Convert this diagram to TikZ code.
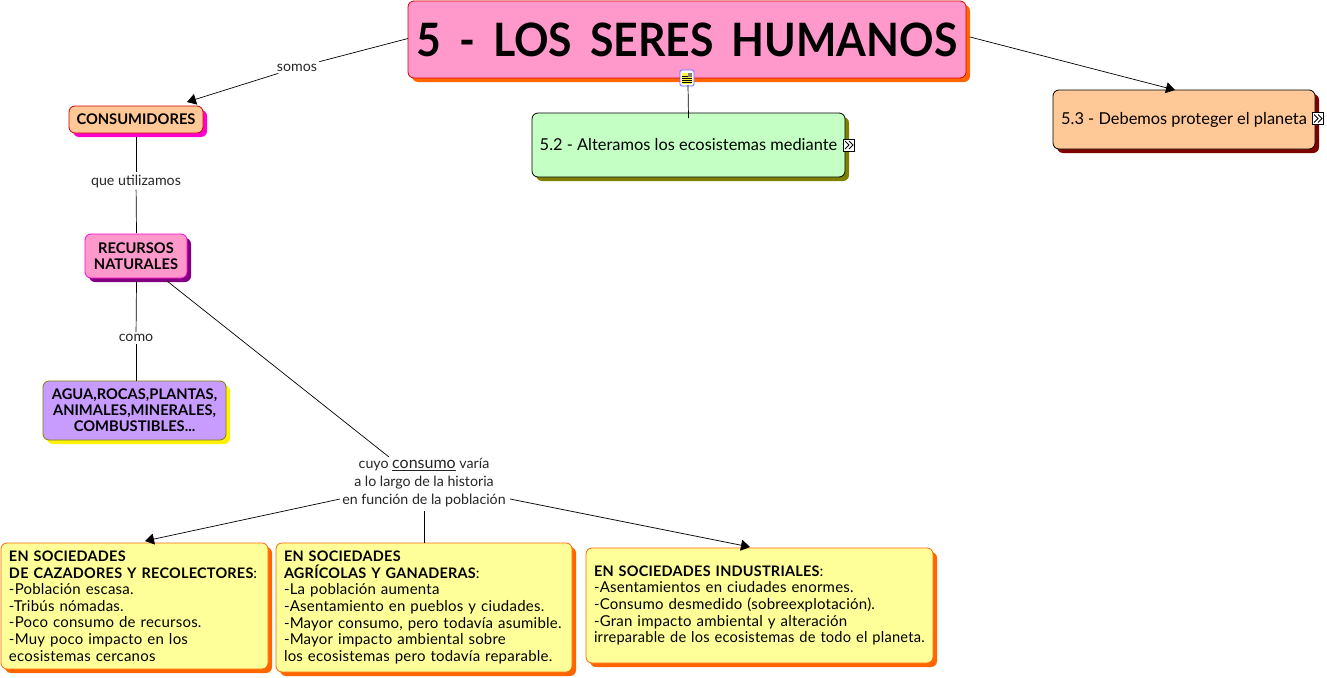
\documentclass[tikz,border=0pt]{standalone}
\usepackage{fontspec}
\setmainfont{Lato}
\usetikzlibrary{shadows,calc,arrows.meta}
\tikzset{
  x=1pt,y=-1pt,
  cbox/.style n args={4}{draw=#1,fill=#2,rounded corners=6pt,line width=0.8pt,
     general shadow={fill=#3,shadow xshift=4pt,shadow yshift=-4pt},minimum width=#4,inner sep=0pt},
  lbl/.style={fill=white,inner sep=2pt,font=\fontsize{14.2}{18}\selectfont,text=black!85,align=center},
  link/.style={draw=black,line width=0.7pt},
  arrow/.style={link,-{Triangle[length=9pt,width=11pt]}},
  body/.style={font=\fontsize{15}{16.6}\addfontfeature{LetterSpace=1.5}\selectfont,align=left},
  strong/.style={font=\fontsize{14.7}{16}\selectfont\bfseries,align=center},
  mid/.style={font=\fontsize{16.4}{18}\selectfont},
  chev/.style={draw=black,fill=white,line width=0.8pt,minimum width=11pt,minimum height=12pt,inner sep=0pt},
  chevline/.style={draw=black,line width=1pt}
}
\newcommand{\hd}[1]{{\fontsize{14.5}{16.6}\selectfont\bfseries #1}}
\definecolor{pinkf}{HTML}{FF99CC}
\definecolor{orangesh}{HTML}{FF6600}
\definecolor{greenf}{HTML}{C4FFC4}
\definecolor{peach}{HTML}{FFC896}
\definecolor{maroonsh}{HTML}{800000}
\definecolor{olivesh}{HTML}{808000}
\definecolor{magsh}{HTML}{FF00CC}
\definecolor{purplesh}{HTML}{800080}
\definecolor{lilac}{HTML}{C89BFF}
\definecolor{yellowf}{HTML}{FFFF99}
\begin{document}
\begin{tikzpicture}
\useasboundingbox (0,0) rectangle (1327,677);
% boxes
\node[cbox={red!85!black}{pinkf}{orangesh}{558pt},minimum height=77pt,font=\fontsize{46}{50}\selectfont\bfseries] (title) at (687,39.5) {\scalebox{0.93}[1]{5\hspace{8pt} -\hspace{8pt} LOS\hspace{8pt} SERES\hspace{8pt} HUMANOS}};
\node[cbox={black}{greenf}{olivesh}{313pt},minimum height=64pt,mid] (n52) at (688.5,145) {5.2 - Alteramos los ecosistemas mediante\hspace{2pt}};
\node[cbox={black}{peach}{maroonsh}{262pt},minimum height=59pt,mid] (n53) at (1184,119.5) {5.3 - Debemos proteger el planeta};
\node[cbox={red!80!black}{peach}{magsh}{134pt},minimum height=27pt,strong] (cons) at (136,119.5) {CONSUMIDORES};
\node[cbox={magsh}{pinkf}{purplesh}{102pt},minimum height=44pt,strong] (rec) at (136,256) {RECURSOS\\NATURALES};
\node[cbox={olivesh}{lilac}{yellow}{183pt},minimum height=59pt,strong] (agua) at (134.5,410.5) {AGUA,ROCAS,PLANTAS,\\ANIMALES,MINERALES,\\COMBUSTIBLES...};
\node[cbox={orangesh}{yellowf}{orangesh}{267pt},minimum height=126pt,body,text width=251pt] (caz) at (134.5,606) {\hd{EN SOCIEDADES}\\\hd{DE CAZADORES Y RECOLECTORES}:\\-Población escasa.\\-Tribús nómadas.\\-Poco consumo de recursos.\\-Muy poco impacto en los\\ecosistemas cercanos};
\node[cbox={orangesh}{yellowf}{orangesh}{296pt},minimum height=129pt,body,text width=280pt] (agr) at (424,607.5) {\hd{EN SOCIEDADES}\\\hd{AGRÍCOLAS Y GANADERAS}:\\-La población aumenta\\-Asentamiento en pueblos y ciudades.\\-Mayor consumo, pero todavía asumible.\\-Mayor impacto ambiental sobre\\los ecosistemas pero todavía reparable.};
\node[cbox={orangesh}{yellowf}{orangesh}{347pt},minimum height=115pt,body,text width=331pt] (ind) at (759.5,605.5) {\hd{EN SOCIEDADES INDUSTRIALES}:\\-Asentamientos en ciudades enormes.\\-Consumo desmedido (sobreexplotación).\\-Gran impacto ambiental y alteración\\\scalebox{0.977}[1]{irreparable de los ecosistemas de todo el planeta.}};
% labels
\node[lbl] (somos) at (297,67.5) {somos};
\node[lbl] (util) at (136,181) {que utilizamos};
\node[lbl] (como) at (136,338) {como};
\node[lbl] (cuyo) at (424,483) {cuyo {\fontsize{16}{18}\selectfont\underline{consumo}} varía\\a lo largo de la historia\\en función de la población};
% small icons
\node[draw=blue!60!white,fill=white,line width=0.8pt,rounded corners=1.5pt,minimum width=14pt,minimum height=16pt,inner sep=0pt] (doc) at (687,78) {};
\fill[yellow!70!white] (682,72.5) rectangle (692,83.5);
\fill[gray] (688,72.5) rectangle (692,77);
\foreach \yy in {76,78,80,82} \draw[black,line width=0.5pt] (682,\yy) -- (688,\yy);
\foreach \yy in {78,80,82} \draw[black,line width=0.5pt] (688,\yy) -- (692,\yy);
\node[chev] (c52) at (849,145) {};
\node[chev] (c53) at (1318,118.5) {};
\foreach \c in {c52,c53} {
  \draw[chevline] ($(\c)+(-4,-4)$) -- ($(\c)+(0,0)$) -- ($(\c)+(-4,4)$);
  \draw[chevline] ($(\c)+(0,-4)$) -- ($(\c)+(4,0)$) -- ($(\c)+(0,4)$);
}
% connector end points
\coordinate (titleS) at (688,85);
\coordinate (n52N) at (688.5,118);
\coordinate (n53A) at (1175,90);
\coordinate (titleE) at (970,37);
\coordinate (titleW) at (408,38.5);
\coordinate (recA) at (167,281);
\coordinate (cazA) at (145,541);
\coordinate (indA) at (750,547);
\coordinate (agrA) at (424,543);
\coordinate (cuyoW) at (340,499);
\coordinate (cuyoE) at (510,499);
\coordinate (cuyoB) at (424,511);
\coordinate (cuyoT) at (389,457);
\coordinate (recB) at (136.5,281);
\coordinate (aguaT) at (136,381);
\coordinate (consN) at (187,102);
\coordinate (consS) at (136,137);
\coordinate (recN) at (136.5,233);
% connectors
\draw[link] (titleW) -- (somos);
\draw[arrow] (somos) -- (consN);
\draw[arrow] (titleE) -- (n53A);
\draw[link] (titleS) -- (n52N);
\draw[link] (consS) -- (util);
\draw[link] (util) -- (recN);
\draw[link] (recB) -- (como);
\draw[link] (como) -- (aguaT);
\draw[link] (recA) -- (cuyoT);
\draw[arrow] (cuyoW) -- (cazA);
\draw[link] (cuyoB) -- (agrA);
\draw[arrow] (cuyoE) -- (indA);
\end{tikzpicture}
\end{document}
